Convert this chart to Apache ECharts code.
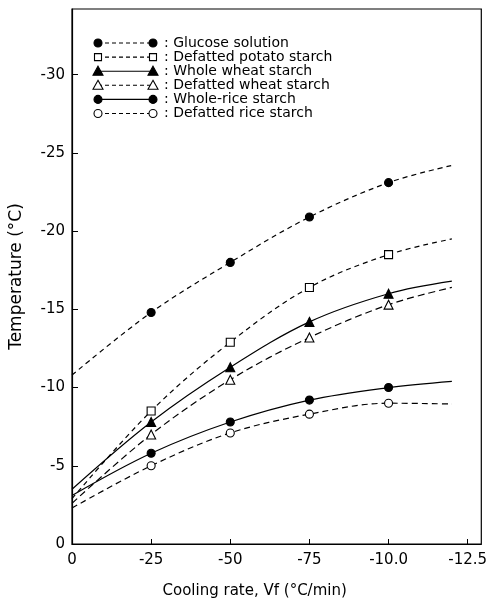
<!DOCTYPE html>
<html>
<head>
<meta charset="utf-8">
<script src="https://cdn.jsdelivr.net/npm/echarts@6/dist/echarts.min.js"></script>
<style>html,body{margin:0;padding:0;background:#fff}#c{width:490px;height:604px}</style>
</head>
<body>
<div id="c"></div>
<script>
// ---- data ----
var xValues = [0, 25, 50, 75, 100, 120];          // cooling-rate positions of curve nodes
var xTickValues = [0, 25, 50, 75, 100, 125];
var xTickLabels = ['0', '-25', '-50', '-75', '-10.0', '-12.5'];
var yTickValues = [0, 5, 10, 15, 20, 25, 30];
var yTickLabels = ['0', '-5', '-10', '-15', '-20', '-25', '-30'];

var seriesNames = ['Glucose solution', 'Defatted potato starch', 'Whole wheat starch',
                   'Defatted wheat starch', 'Whole-rice starch', 'Defatted rice starch'];
var glucose    = [10.8, 14.8, 18.0, 20.9, 23.1, 24.2];
var potato     = [2.9, 8.5, 12.9, 16.4, 18.5, 19.5];
var wholeWheat = [3.5, 7.8, 11.3, 14.2, 16.0, 16.8];
var defWheat   = [2.6, 7.0, 10.5, 13.2, 15.3, 16.4];
var wholeRice  = [3.1, 5.8, 7.8, 9.2, 10.0, 10.4];
var defRice    = [2.3, 5.0, 7.1, 8.3, 9.0, 8.95];
// which nodes are measured points (markers); the first and last are curve ends
var measured   = [false, true, true, true, true, false];

// ---- styles ----
var styles = [
  {sym: 'circle',   filled: true,  dash: [5, 4], size: 8},
  {sym: 'rect',     filled: false, dash: [5, 4], size: 8},
  {sym: 'triangle', filled: true,  dash: 'solid', size: 9},
  {sym: 'triangle', filled: false, dash: [7, 4], size: 9},
  {sym: 'circle',   filled: true,  dash: 'solid', size: 8},
  {sym: 'circle',   filled: false, dash: [6, 4], size: 8}
];
var allData = [glucose, potato, wholeWheat, defWheat, wholeRice, defRice];

var series = allData.map(function (vals, i) {
  var st = styles[i];
  return {
    name: seriesNames[i],
    type: 'line',
    smooth: 0.35,
    symbol: st.sym,
    symbolSize: st.size,
    showAllSymbol: true,
    lineStyle: {color: '#000', width: 1.2, type: st.dash},
    itemStyle: {color: st.filled ? '#000' : '#fff', borderColor: '#000', borderWidth: 1.1},
    data: vals.map(function (v, k) {
      var d = {value: [xValues[k], v]};
      if (!measured[k]) d.symbol = 'none';
      return d;
    }),
    z: 3
  };
});

// ---- legend drawn as graphic ----
var legendGraphics = [];
var lx1 = 98, lx2 = 153, ly0 = 43, ldy = 14.1;
function symbolGraphic(st, cx, cy) {
  var s = {stroke: '#000', lineWidth: 1.1, fill: st.filled ? '#000' : '#fff'};
  if (st.sym === 'circle') return {type: 'circle', shape: {cx: cx, cy: cy, r: 4}, style: s, z: 10};
  if (st.sym === 'rect') return {type: 'rect', shape: {x: cx - 3.5, y: cy - 3.5, width: 7, height: 7}, style: s, z: 10};
  return {type: 'polygon', shape: {points: [[cx, cy - 5], [cx + 5, cy + 4], [cx - 5, cy + 4]]}, style: s, z: 10};
}
seriesNames.forEach(function (name, i) {
  var st = styles[i];
  var y = ly0 + i * ldy;
  legendGraphics.push({type: 'line', shape: {x1: lx1, y1: y, x2: lx2, y2: y},
    style: {stroke: '#000', lineWidth: 1.1, lineDash: st.dash === 'solid' ? null : [4, 3]}, z: 9});
  legendGraphics.push(symbolGraphic(st, lx1, y));
  legendGraphics.push(symbolGraphic(st, lx2, y));
  legendGraphics.push({type: 'text', x: 164, y: y,
    style: {text: ': ' + name, fill: '#000', font: '14px "DejaVu Sans"', verticalAlign: 'middle', align: 'left'}, z: 10});
});

var chart = echarts.init(document.getElementById('c'), null, {renderer: 'canvas'});
chart.setOption({
  animation: false,
  backgroundColor: '#fff',
  grid: {left: 69, right: 3, top: 9, bottom: 58, show: true, borderColor: '#000', borderWidth: 1.2, containLabel: false},
  xAxis: {
    type: 'value', min: 0, max: 129.3, interval: 25,
    name: 'Cooling rate, Vf (°C/min)', nameLocation: 'middle', nameGap: 40,
    nameTextStyle: {fontFamily: 'DejaVu Sans', fontSize: 15, color: '#000', padding: [0, 44, 0, 0]},
    axisLine: {lineStyle: {color: '#000', width: 1.2}},
    axisTick: {inside: true, length: 5, lineStyle: {color: '#000'}},
    splitLine: {show: false},
    axisLabel: {
      color: '#000', fontFamily: 'DejaVu Sans', fontSize: 15, margin: 9, showMaxLabel: false,
      formatter: function (v) { var k = xTickValues.indexOf(Math.round(v * 100) / 100); return k >= 0 ? xTickLabels[k] : ''; }
    }
  },
  yAxis: {
    type: 'value', min: 0, max: 34.2, interval: 5,
    name: 'Temperature (°C)', nameLocation: 'middle', nameGap: 47,
    nameTextStyle: {fontFamily: 'DejaVu Sans', fontSize: 17, color: '#000'},
    axisLine: {lineStyle: {color: '#000', width: 1.2}},
    axisTick: {inside: true, length: 6, lineStyle: {color: '#000'}},
    splitLine: {show: false},
    axisLabel: {
      color: '#000', fontFamily: 'DejaVu Sans', fontSize: 15, margin: 7, showMaxLabel: false,
      formatter: function (v) { var k = yTickValues.indexOf(Math.round(v * 100) / 100); return k >= 0 ? yTickLabels[k] : ''; }
    }
  },
  graphic: legendGraphics,
  series: series
});
</script>
</body>
</html>
